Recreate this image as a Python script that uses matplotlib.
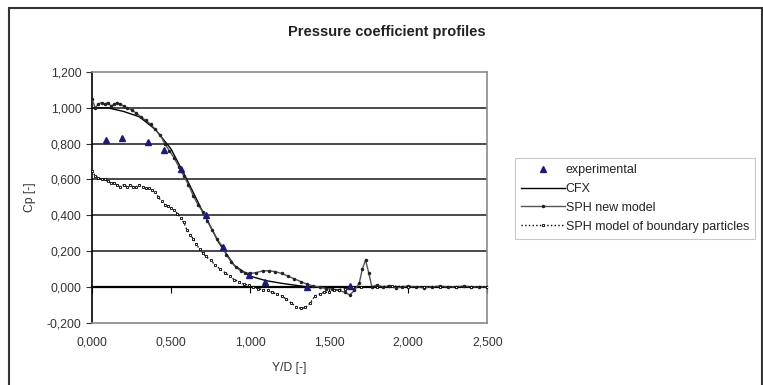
import matplotlib
matplotlib.use('Agg')
import matplotlib.pyplot as plt
from matplotlib.patches import Rectangle
from matplotlib.ticker import FuncFormatter, MultipleLocator

# Experimental points
exp_x = [0.09, 0.19, 0.355, 0.456, 0.563, 0.72, 0.83, 0.99, 1.095, 1.36, 1.63]
exp_y = [0.82, 0.83, 0.81, 0.765, 0.66, 0.40, 0.225, 0.067, 0.03, 0.0, 0.005]

# CFX solution
cfx_x = [0.0, 0.1, 0.2, 0.3, 0.4, 0.5, 0.6, 0.7, 0.8, 0.9, 1.0, 1.1, 1.2, 1.36, 1.5, 2.0, 2.5]
cfx_y = [1.0, 1.0, 0.98, 0.95, 0.88, 0.77, 0.60, 0.42, 0.25, 0.12, 0.06, 0.035, 0.02, 0.0, 0.0, 0.0, 0.0]

# SPH new model
sph_new_x = [0.00, 0.02, 0.04, 0.06, 0.08, 0.10, 0.12, 0.14, 0.16, 0.18, 0.20, 0.22,
             0.25, 0.28, 0.31, 0.34, 0.37, 0.40, 0.43, 0.46, 0.49, 0.52, 0.55, 0.58,
             0.61, 0.64, 0.67, 0.70, 0.73, 0.76, 0.79, 0.82, 0.85, 0.88, 0.91, 0.94,
             0.97, 1.00, 1.04, 1.08, 1.12, 1.16, 1.20, 1.24, 1.28, 1.32, 1.36, 1.40,
             1.44, 1.48, 1.52, 1.56, 1.60, 1.63, 1.66, 1.69, 1.71, 1.73, 1.75, 1.77,
             1.80, 1.84, 1.88, 1.92, 1.96, 2.00, 2.05, 2.10, 2.15, 2.20, 2.25, 2.30,
             2.35, 2.40, 2.45, 2.50]
sph_new_y = [1.05, 1.00, 1.02, 1.03, 1.02, 1.03, 1.01, 1.02, 1.03, 1.02, 1.01, 1.00,
             0.99, 0.97, 0.95, 0.93, 0.91, 0.88, 0.85, 0.80, 0.76, 0.72, 0.67, 0.62,
             0.57, 0.51, 0.46, 0.42, 0.37, 0.32, 0.27, 0.23, 0.18, 0.14, 0.11, 0.09,
             0.08, 0.075, 0.08, 0.09, 0.09, 0.085, 0.075, 0.06, 0.045, 0.03, 0.015, 0.005,
             0.0, -0.01, -0.01, -0.02, -0.03, -0.045, -0.02, 0.02, 0.10, 0.15, 0.08, 0.0,
             0.01, 0.0, 0.005, -0.005, 0.0, 0.005, 0.0, -0.005, 0.0, 0.005, 0.0, 0.0,
             0.005, 0.0, 0.0, 0.0]

# SPH model of boundary particles
sph_bp_x = [0.00, 0.02, 0.04, 0.06, 0.08, 0.10, 0.12, 0.14, 0.16, 0.18, 0.20, 0.22,
            0.24, 0.26, 0.28, 0.30, 0.32, 0.34, 0.36, 0.38, 0.40, 0.42, 0.44, 0.46,
            0.48, 0.50, 0.52, 0.54, 0.56, 0.58, 0.60, 0.62, 0.64, 0.66, 0.68, 0.70,
            0.72, 0.75, 0.78, 0.81, 0.84, 0.87, 0.90, 0.93, 0.96, 0.99, 1.02, 1.05,
            1.08, 1.11, 1.14, 1.17, 1.20, 1.23, 1.26, 1.29, 1.32, 1.35, 1.38, 1.41,
            1.44, 1.47, 1.50, 1.53, 1.56, 1.60, 1.65, 1.70, 1.80, 1.90, 2.00, 2.10,
            2.20, 2.30, 2.40, 2.50]
sph_bp_y = [0.65, 0.62, 0.61, 0.60, 0.60, 0.59, 0.58, 0.58, 0.57, 0.56, 0.57, 0.56,
            0.57, 0.56, 0.56, 0.57, 0.56, 0.55, 0.55, 0.54, 0.53, 0.50, 0.48, 0.46,
            0.45, 0.44, 0.43, 0.41, 0.385, 0.36, 0.32, 0.29, 0.27, 0.24, 0.21, 0.19,
            0.17, 0.15, 0.12, 0.10, 0.08, 0.06, 0.04, 0.03, 0.015, 0.01, 0.0, -0.01,
            -0.015, -0.02, -0.03, -0.04, -0.05, -0.07, -0.09, -0.11, -0.12, -0.115, -0.09, -0.05,
            -0.04, -0.03, -0.03, -0.02, -0.015, -0.01, 0.0, 0.0, 0.0, 0.005, 0.0, 0.0,
            0.0, 0.0, 0.0, 0.0]

plt.rcParams['font.family'] = ['Liberation Sans', 'DejaVu Sans']

fig = plt.figure(figsize=(7.63, 3.85), dpi=100)
ax = fig.add_axes([0.1206, 0.1618, 0.518, 0.651])

# outer chart border (cut off at the bottom)
fig.patches.append(Rectangle((0.0118, -0.05), 0.987, 1.029, transform=fig.transFigure,
                             fill=False, edgecolor='#333333', linewidth=1.5))

comma = FuncFormatter(lambda v, pos: ('%.3f' % v).replace('.', ','))

ax.set_xlim(0, 2.5)
ax.set_ylim(-0.2, 1.2)
ax.xaxis.set_major_locator(MultipleLocator(0.5))
ax.yaxis.set_major_locator(MultipleLocator(0.2))
ax.xaxis.set_major_formatter(comma)
ax.yaxis.set_major_formatter(comma)
ax.tick_params(axis='x', length=0, labelsize=8.7, pad=10, colors='#333333')
ax.tick_params(axis='y', length=4, labelsize=8.7, colors='#333333', direction='out')

for yv in [0.2, 0.4, 0.6, 0.8, 1.0]:
    ax.axhline(yv, color='#3a3a3a', linewidth=1.3, zorder=1)

for side in ['top', 'right', 'bottom']:
    ax.spines[side].set_color('#8a8a8a')
    ax.spines[side].set_linewidth(1.2)
ax.spines['left'].set_color('black')
ax.spines['left'].set_linewidth(1.2)

# x axis crossing at zero
sec = ax.secondary_xaxis(0.2 / 1.4)
sec.xaxis.set_major_locator(MultipleLocator(0.5))
sec.tick_params(axis='x', length=4, direction='out', labelbottom=False, color='black')
sec.spines['bottom'].set_color('black')
sec.spines['bottom'].set_linewidth(1.6)

ax.plot(cfx_x, cfx_y, color='black', linewidth=1.0, label='CFX', zorder=3)
ax.plot(sph_new_x, sph_new_y, color='#555555', linewidth=1.0, marker='.',
        markersize=3, markerfacecolor='#222222', markeredgecolor='#222222',
        label='SPH new model', zorder=4)
ax.plot(sph_bp_x, sph_bp_y, color='black', linewidth=1.0, linestyle=':',
        marker='s', markersize=2.0, markerfacecolor='white', markeredgecolor='black',
        markeredgewidth=0.6, label='SPH model of boundary particles', zorder=4)
ax.plot(exp_x, exp_y, linestyle='none', marker='^', markersize=5,
        color='#1c1c78', label='experimental', zorder=5)

handles, labels = ax.get_legend_handles_labels()
order = [3, 0, 1, 2]
leg = fig.legend([handles[i] for i in order], [labels[i] for i in order],
                 loc='upper left', bbox_to_anchor=(0.675, 0.59), fontsize=9.0,
                 frameon=True, fancybox=False, edgecolor='#bbbbbb',
                 handlelength=3.5, borderpad=0.5, labelspacing=0.55,
                 handletextpad=0.05, borderaxespad=0)
leg.get_frame().set_linewidth(0.8)
for t in leg.get_texts():
    t.set_color('#222222')

fig.text(0.507, 0.917, 'Pressure coefficient profiles', ha='center', va='center',
         fontsize=10.5, fontweight='bold', color='#222222')
ax.set_xlabel('Y/D [-]', fontsize=8.7, color='#333333', labelpad=10)
ax.set_ylabel('Cp [-]', fontsize=8.7, color='#333333', labelpad=8)

fig.savefig('out.png', dpi=100)
